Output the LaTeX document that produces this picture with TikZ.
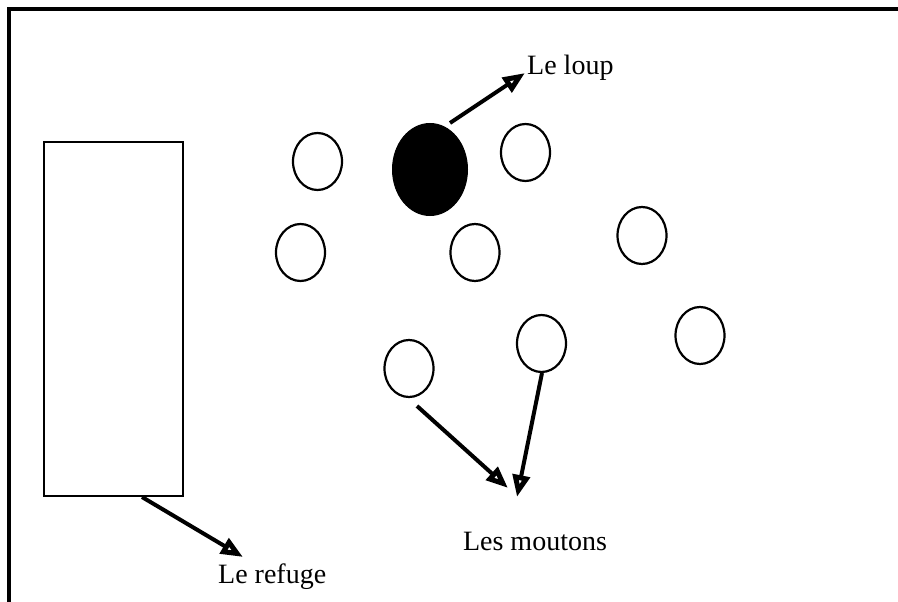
\documentclass[tikz,border=0pt]{standalone}
\usepackage{fontspec}
\setmainfont{Liberation Serif}
\usetikzlibrary{shapes.geometric,arrows.meta}
\begin{document}
\begin{tikzpicture}[x=1pt,y=-1pt,
  sheep/.style={ellipse,draw,line width=2.2pt,inner sep=0pt,minimum width=49pt,minimum height=57pt},
  wolf/.style={ellipse,draw,fill=black,line width=1pt,inner sep=0pt,minimum width=75pt,minimum height=92pt},
  refugebox/.style={rectangle,draw,line width=2.2pt,inner sep=0pt,minimum width=139pt,minimum height=354pt},
  lbl/.style={font=\fontsize{28}{30}\selectfont,inner sep=0pt},
  pointer/.style={line width=4pt,-{Triangle[open,length=22pt,width=17pt,line width=5pt]}}]
\useasboundingbox (0,0) rectangle (898,602);
\draw[line width=3.5pt] (9,602) -- (9,9) -- (898,9);
% refuge
\node[refugebox] (refuge) at (113.5,319) {};
% wolf
\node[wolf] (loup) at (430,169.5) {};
% sheep
\node[sheep] (m1) at (317.5,161.5) {};
\node[sheep] (m2) at (525.5,152.5) {};
\node[sheep] (m3) at (300.5,252.5) {};
\node[sheep] (m4) at (475,252.5) {};
\node[sheep] (m5) at (642,235.5) {};
\node[sheep] (m6) at (700,335.5) {};
\node[sheep] (m7) at (409,368.5) {};
\node[sheep] (m8) at (541.5,343.5) {};
% labels
\node[lbl,anchor=base west] (tloup) at (527,75) {Le loup};
\node[lbl,anchor=base] (tmoutons) at (535,550) {Les moutons};
\node[lbl,anchor=base west] (trefuge) at (218,583) {Le refuge};
% arrow end points
\coordinate (loupS) at (450,123);
\coordinate (loupE) at (525,73);
\coordinate (refS) at (142,497);
\coordinate (refE) at (243,557);
\coordinate (m7S) at (417,406);
\coordinate (m7E) at (508,488);
\coordinate (m8S) at (542,373);
\coordinate (m8E) at (517,497);
\draw[pointer] (loupS) -- (loupE);
\draw[pointer] (refS) -- (refE);
\draw[pointer] (m7S) -- (m7E);
\draw[pointer] (m8S) -- (m8E);
\end{tikzpicture}
\end{document}
